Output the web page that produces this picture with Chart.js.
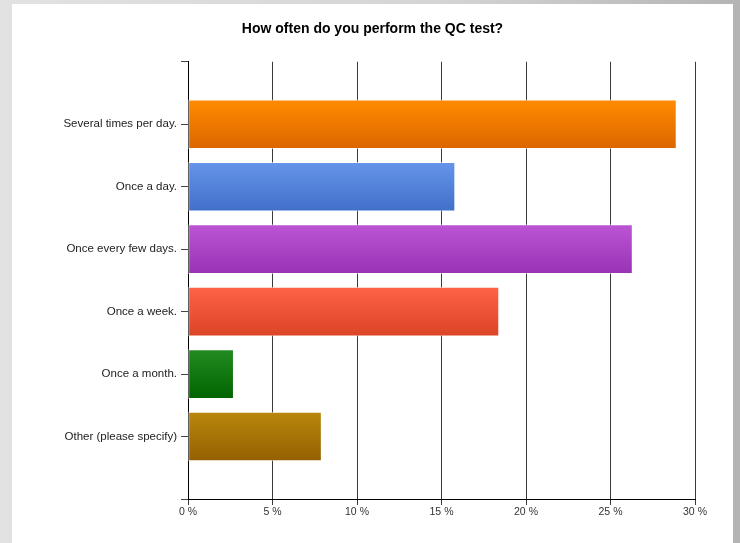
<!DOCTYPE html>
<html>
<head>
<meta charset="utf-8">
<script src="https://cdn.jsdelivr.net/npm/chart.js@4/dist/chart.umd.min.js"></script>
<style>
  html, body { margin: 0; padding: 0; }
  body {
    width: 740px; height: 543px; overflow: hidden; position: relative;
    background: linear-gradient(to right, #e2e2e2 0%, #d4d4d4 60%, #b4b4b4 100%);
  }
  #panel {
    position: absolute; left: 12px; top: 4px; width: 721px; height: 539px;
    background: #fff;
  }
</style>
</head>
<body>
<div id="panel"><canvas id="grafica" width="721" height="539"></canvas></div>
<script>
const categories = [
  'Several times per day.',
  'Once a day.',
  'Once every few days.',
  'Once a week.',
  'Once a month.',
  'Other (please specify)'
];
const percents = [28.9, 15.8, 26.3, 18.4, 2.7, 7.9];
const xTicks = [0, 5, 10, 15, 20, 25, 30];

// light top / dark bottom of each bar
const topColors    = ['#ff8c00', '#6595ea', '#bb55d4', '#fe6247', '#238b22', '#b8870b'];
const bottomColors = ['#dc6600', '#416fc9', '#9933b6', '#dc4426', '#006400', '#946003'];

const BAR_H = 49;

// blank slots at both ends so the six bars sit one step in from the axis ends
const labels = [''].concat(categories, ['']);
const values = [null].concat(percents, [null]);

function barFill(context) {
  const k = context.dataIndex - 1;
  const chart = context.chart;
  const y = chart.scales.y;
  if (k < 0 || k >= categories.length) return 'rgba(0,0,0,0)';
  if (!y || !chart.chartArea) return topColors[k];
  const c = y.getPixelForValue(context.dataIndex);
  const g = chart.ctx.createLinearGradient(0, c - BAR_H / 2, 0, c + BAR_H / 2);
  g.addColorStop(0, topColors[k]);
  g.addColorStop(1, bottomColors[k]);
  return g;
}

const graph = document.querySelector('#grafica');

const data = {
  labels: labels,
  datasets: [{
    data: values,
    backgroundColor: barFill,
    borderColor: 'rgba(255,255,255,0.55)',
    borderWidth: 1,
    borderSkipped: false,
    barThickness: BAR_H
  }]
};

const config = {
  type: 'bar',
  data: data,
  options: {
    indexAxis: 'y',
    responsive: false,
    animation: false,
    layout: { padding: 0 },
    plugins: {
      legend: { display: false },
      tooltip: { enabled: false },
      title: {
        display: true,
        text: 'How often do you perform the QC test?',
        color: '#000',
        font: { family: 'Liberation Sans, Arial, sans-serif', size: 14, weight: 'bold' },
        padding: { top: 17, bottom: 24 }
      }
    },
    scales: {
      x: {
        min: 0,
        max: 30,
        afterBuildTicks: function(scale) {
          scale.ticks = xTicks.map(v => ({ value: v }));
        },
        afterFit: function(scale) { scale.height = 44; },
        grid: {
          color: '#3a3a3a',
          lineWidth: 1,
          drawTicks: true,
          tickLength: 6,
          tickColor: '#3a3a3a'
        },
        border: { display: true, color: '#000', width: 1 },
        ticks: {
          color: '#333',
          padding: 1,
          maxRotation: 0,
          font: { family: 'Liberation Sans Narrow, Liberation Sans, Arial, sans-serif', size: 10.5 },
          callback: v => v + ' %'
        }
      },
      y: {
        offset: false,
        afterFit: function(scale) { scale.width = 176; },
        grid: {
          offset: false,
          drawOnChartArea: false,
          drawTicks: true,
          tickLength: 7,
          tickColor: '#444'
        },
        border: { display: true, color: '#000', width: 1 },
        ticks: {
          color: '#222',
          padding: 4,
          autoSkip: false,
          font: { family: 'Liberation Sans, Arial, sans-serif', size: 11.5 }
        }
      },
      // empty right-hand axis, only keeps a margin right of the plot
      spacer: {
        type: 'linear',
        position: 'right',
        grid: { display: false },
        ticks: { display: false },
        border: { display: false },
        afterFit: function(scale) { scale.width = 38; }
      }
    }
  }
};

new Chart(graph, config);
</script>
</body>
</html>
